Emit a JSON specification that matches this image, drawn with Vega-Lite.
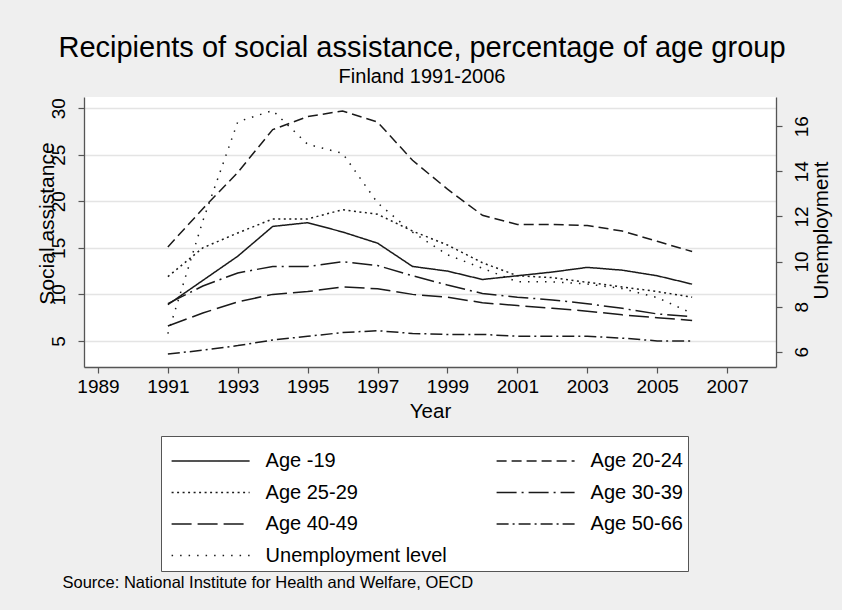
{
  "$schema": "https://vega.github.io/schema/vega-lite/v6.json",
  "width": 692,
  "height": 270,
  "autosize": {"type": "none"},
  "padding": {"left": 84, "top": 97, "right": 66, "bottom": 243},
  "background": "#efefef",
  "config": {
    "font": "Liberation Sans",
    "view": {"fill": "white", "stroke": null},
    "axis": {
      "labelFont": "Liberation Sans",
      "titleFont": "Liberation Sans",
      "labelColor": "#000000",
      "titleColor": "#000000",
      "titleFontWeight": "normal",
      "domainColor": "#555555",
      "domainWidth": 1.3,
      "tickColor": "#555555",
      "tickWidth": 1.2
    }
  },
  "title": {
    "text": "Recipients of social assistance, percentage of age group",
    "subtitle": "Finland 1991-2006",
    "font": "Liberation Sans",
    "subtitleFont": "Liberation Sans",
    "fontSize": 29,
    "subtitleFontSize": 20,
    "fontWeight": "normal",
    "color": "#000000",
    "subtitleColor": "#000000",
    "anchor": "middle",
    "dx": -8,
    "offset": 10,
    "subtitlePadding": 4
  },
  "datasets": {
    "assistance": [
      {"year": 1991, "series": "Age -19", "pct": 8.9},
      {"year": 1992, "series": "Age -19", "pct": 11.5},
      {"year": 1993, "series": "Age -19", "pct": 14.1},
      {"year": 1994, "series": "Age -19", "pct": 17.3},
      {"year": 1995, "series": "Age -19", "pct": 17.7},
      {"year": 1996, "series": "Age -19", "pct": 16.7},
      {"year": 1997, "series": "Age -19", "pct": 15.5},
      {"year": 1998, "series": "Age -19", "pct": 13.0},
      {"year": 1999, "series": "Age -19", "pct": 12.5},
      {"year": 2000, "series": "Age -19", "pct": 11.6},
      {"year": 2001, "series": "Age -19", "pct": 12.0},
      {"year": 2002, "series": "Age -19", "pct": 12.4},
      {"year": 2003, "series": "Age -19", "pct": 12.9},
      {"year": 2004, "series": "Age -19", "pct": 12.6},
      {"year": 2005, "series": "Age -19", "pct": 12.0},
      {"year": 2006, "series": "Age -19", "pct": 11.1},

      {"year": 1991, "series": "Age 20-24", "pct": 15.1},
      {"year": 1992, "series": "Age 20-24", "pct": 19.2},
      {"year": 1993, "series": "Age 20-24", "pct": 23.1},
      {"year": 1994, "series": "Age 20-24", "pct": 27.7},
      {"year": 1995, "series": "Age 20-24", "pct": 29.1},
      {"year": 1996, "series": "Age 20-24", "pct": 29.7},
      {"year": 1997, "series": "Age 20-24", "pct": 28.5},
      {"year": 1998, "series": "Age 20-24", "pct": 24.4},
      {"year": 1999, "series": "Age 20-24", "pct": 21.3},
      {"year": 2000, "series": "Age 20-24", "pct": 18.5},
      {"year": 2001, "series": "Age 20-24", "pct": 17.5},
      {"year": 2002, "series": "Age 20-24", "pct": 17.5},
      {"year": 2003, "series": "Age 20-24", "pct": 17.4},
      {"year": 2004, "series": "Age 20-24", "pct": 16.8},
      {"year": 2005, "series": "Age 20-24", "pct": 15.7},
      {"year": 2006, "series": "Age 20-24", "pct": 14.6},

      {"year": 1991, "series": "Age 25-29", "pct": 11.9},
      {"year": 1992, "series": "Age 25-29", "pct": 15.0},
      {"year": 1993, "series": "Age 25-29", "pct": 16.6},
      {"year": 1994, "series": "Age 25-29", "pct": 18.1},
      {"year": 1995, "series": "Age 25-29", "pct": 18.1},
      {"year": 1996, "series": "Age 25-29", "pct": 19.1},
      {"year": 1997, "series": "Age 25-29", "pct": 18.6},
      {"year": 1998, "series": "Age 25-29", "pct": 16.8},
      {"year": 1999, "series": "Age 25-29", "pct": 15.3},
      {"year": 2000, "series": "Age 25-29", "pct": 13.4},
      {"year": 2001, "series": "Age 25-29", "pct": 12.0},
      {"year": 2002, "series": "Age 25-29", "pct": 11.8},
      {"year": 2003, "series": "Age 25-29", "pct": 11.3},
      {"year": 2004, "series": "Age 25-29", "pct": 10.8},
      {"year": 2005, "series": "Age 25-29", "pct": 10.3},
      {"year": 2006, "series": "Age 25-29", "pct": 9.7},

      {"year": 1991, "series": "Age 30-39", "pct": 9.0},
      {"year": 1992, "series": "Age 30-39", "pct": 10.9},
      {"year": 1993, "series": "Age 30-39", "pct": 12.3},
      {"year": 1994, "series": "Age 30-39", "pct": 13.0},
      {"year": 1995, "series": "Age 30-39", "pct": 13.0},
      {"year": 1996, "series": "Age 30-39", "pct": 13.5},
      {"year": 1997, "series": "Age 30-39", "pct": 13.1},
      {"year": 1998, "series": "Age 30-39", "pct": 12.0},
      {"year": 1999, "series": "Age 30-39", "pct": 11.0},
      {"year": 2000, "series": "Age 30-39", "pct": 10.1},
      {"year": 2001, "series": "Age 30-39", "pct": 9.7},
      {"year": 2002, "series": "Age 30-39", "pct": 9.4},
      {"year": 2003, "series": "Age 30-39", "pct": 9.0},
      {"year": 2004, "series": "Age 30-39", "pct": 8.5},
      {"year": 2005, "series": "Age 30-39", "pct": 7.9},
      {"year": 2006, "series": "Age 30-39", "pct": 7.6},

      {"year": 1991, "series": "Age 40-49", "pct": 6.6},
      {"year": 1992, "series": "Age 40-49", "pct": 8.0},
      {"year": 1993, "series": "Age 40-49", "pct": 9.2},
      {"year": 1994, "series": "Age 40-49", "pct": 10.0},
      {"year": 1995, "series": "Age 40-49", "pct": 10.3},
      {"year": 1996, "series": "Age 40-49", "pct": 10.8},
      {"year": 1997, "series": "Age 40-49", "pct": 10.6},
      {"year": 1998, "series": "Age 40-49", "pct": 10.0},
      {"year": 1999, "series": "Age 40-49", "pct": 9.7},
      {"year": 2000, "series": "Age 40-49", "pct": 9.1},
      {"year": 2001, "series": "Age 40-49", "pct": 8.8},
      {"year": 2002, "series": "Age 40-49", "pct": 8.5},
      {"year": 2003, "series": "Age 40-49", "pct": 8.2},
      {"year": 2004, "series": "Age 40-49", "pct": 7.8},
      {"year": 2005, "series": "Age 40-49", "pct": 7.5},
      {"year": 2006, "series": "Age 40-49", "pct": 7.2},

      {"year": 1991, "series": "Age 50-66", "pct": 3.6},
      {"year": 1992, "series": "Age 50-66", "pct": 4.0},
      {"year": 1993, "series": "Age 50-66", "pct": 4.5},
      {"year": 1994, "series": "Age 50-66", "pct": 5.1},
      {"year": 1995, "series": "Age 50-66", "pct": 5.5},
      {"year": 1996, "series": "Age 50-66", "pct": 5.9},
      {"year": 1997, "series": "Age 50-66", "pct": 6.1},
      {"year": 1998, "series": "Age 50-66", "pct": 5.8},
      {"year": 1999, "series": "Age 50-66", "pct": 5.7},
      {"year": 2000, "series": "Age 50-66", "pct": 5.7},
      {"year": 2001, "series": "Age 50-66", "pct": 5.5},
      {"year": 2002, "series": "Age 50-66", "pct": 5.5},
      {"year": 2003, "series": "Age 50-66", "pct": 5.5},
      {"year": 2004, "series": "Age 50-66", "pct": 5.3},
      {"year": 2005, "series": "Age 50-66", "pct": 5.0},
      {"year": 2006, "series": "Age 50-66", "pct": 5.0}
    ],
    "unemployment": [
      {"year": 1991, "series": "Unemployment level", "rate": 6.8},
      {"year": 1992, "series": "Unemployment level", "rate": 11.8},
      {"year": 1993, "series": "Unemployment level", "rate": 16.2},
      {"year": 1994, "series": "Unemployment level", "rate": 16.7},
      {"year": 1995, "series": "Unemployment level", "rate": 15.2},
      {"year": 1996, "series": "Unemployment level", "rate": 14.8},
      {"year": 1997, "series": "Unemployment level", "rate": 12.6},
      {"year": 1998, "series": "Unemployment level", "rate": 11.3},
      {"year": 1999, "series": "Unemployment level", "rate": 10.3},
      {"year": 2000, "series": "Unemployment level", "rate": 9.7},
      {"year": 2001, "series": "Unemployment level", "rate": 9.1},
      {"year": 2002, "series": "Unemployment level", "rate": 9.1},
      {"year": 2003, "series": "Unemployment level", "rate": 9.0},
      {"year": 2004, "series": "Unemployment level", "rate": 8.8},
      {"year": 2005, "series": "Unemployment level", "rate": 8.4},
      {"year": 2006, "series": "Unemployment level", "rate": 7.7}
    ]
  },
  "layer": [
    {
      "data": {"name": "assistance"},
      "mark": {"type": "line", "color": "#1a1a1a", "strokeWidth": 1.5},
      "encoding": {
        "x": {
          "field": "year",
          "type": "quantitative",
          "scale": {"domain": [1988.6, 2008.4], "nice": false, "zero": false},
          "axis": {
            "orient": "bottom",
            "values": [1989, 1991, 1993, 1995, 1997, 1999, 2001, 2003, 2005, 2007],
            "format": "d",
            "grid": false,
            "labelFontSize": 19,
            "labelPadding": 4,
            "tickSize": 6,
            "title": "Year",
            "titleFontSize": 20.5,
            "titlePadding": 5
          }
        },
        "y": {
          "field": "pct",
          "type": "quantitative",
          "scale": {"domain": [2.2, 31.2], "nice": false, "zero": false},
          "axis": {
            "orient": "left",
            "values": [5, 10, 15, 20, 25, 30],
            "grid": true,
            "gridColor": "#e4e4e4",
            "gridWidth": 1.6,
            "labelAngle": -90,
            "labelAlign": "center",
            "labelBaseline": "bottom",
            "labelFontSize": 19,
            "labelPadding": 10,
            "tickSize": 6,
            "title": "Social assistance",
            "titleFontSize": 21,
            "titleAngle": -90,
            "titleAlign": "center",
            "titleBaseline": "alphabetic",
            "titleX": -31,
            "titleY": 126
          }
        },
        "strokeDash": {
          "field": "series",
          "type": "nominal",
          "scale": {
            "domain": ["Age -19", "Age 20-24", "Age 25-29", "Age 30-39", "Age 40-49", "Age 50-66", "Unemployment level"],
            "range": [[1, 0], [10, 5], [2, 3.5], [20, 5, 2, 5], [20, 6], [12, 4, 2, 4], [1.5, 7]]
          },
          "legend": {
            "orient": "none",
            "legendX": 77,
            "legendY": 339,
            "direction": "horizontal",
            "columns": 2,
            "title": " ",
            "titleFontSize": 7,
            "titlePadding": 3,
            "symbolType": "M-4.875,0H4.875",
            "symbolSize": 256,
            "symbolOffset": 34.6,
            "symbolStrokeWidth": 1.5,
            "symbolStrokeColor": "#1a1a1a",
            "symbolFillColor": "transparent",
            "labelFont": "Liberation Sans",
            "labelFontSize": 20,
            "labelColor": "#000000",
            "labelOffset": 45,
            "labelLimit": 400,
            "rowPadding": 11.5,
            "columnPadding": 44,
            "padding": 5,
            "fillColor": "#ffffff",
            "strokeColor": "#555555"
          }
        }
      }
    },
    {
      "data": {"name": "unemployment"},
      "mark": {"type": "line", "color": "#1a1a1a", "strokeWidth": 1.5},
      "encoding": {
        "x": {
          "field": "year",
          "type": "quantitative",
          "axis": {
            "orient": "bottom",
            "labels": false,
            "ticks": false,
            "domain": false,
            "grid": false,
            "title": "Source: National Institute for Health and Welfare, OECD",
            "titleFontSize": 16.5,
            "titleAnchor": "start",
            "titleAlign": "left",
            "titleBaseline": "alphabetic",
            "titleX": -22,
            "titleY": 220
          }
        },
        "y": {
          "field": "rate",
          "type": "quantitative",
          "scale": {"domain": [5.32, 17.3], "nice": false, "zero": false},
          "axis": {
            "orient": "right",
            "values": [6, 8, 10, 12, 14, 16],
            "grid": false,
            "labelAngle": -90,
            "labelAlign": "center",
            "labelBaseline": "top",
            "labelFontSize": 19,
            "labelPadding": 10,
            "tickSize": 6,
            "title": "Unemployment",
            "titleFontSize": 20.5,
            "titleAngle": -90,
            "titleAlign": "center",
            "titleBaseline": "alphabetic",
            "titleX": 51,
            "titleY": 133
          }
        },
        "strokeDash": {"field": "series", "type": "nominal"}
      }
    }
  ],
  "resolve": {
    "scale": {"y": "independent"},
    "axis": {"x": "independent", "y": "independent"}
  }
}
